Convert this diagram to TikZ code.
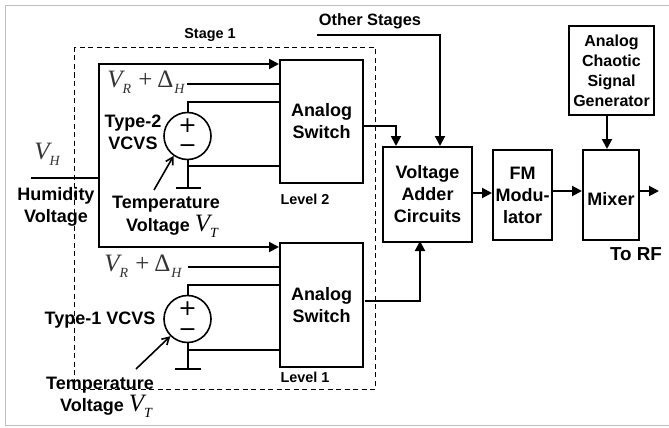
\documentclass[tikz,border=0pt]{standalone}
\usepackage{fontspec}
\setmainfont{Liberation Sans}
\newfontfamily\varfont{Liberation Serif}
\newfontfamily\polefont{DejaVu Sans}
\usetikzlibrary{arrows.meta}
\newcommand{\subvar}[2]{{\varfont\mdseries\fontsize{25}{25}\selectfont\itshape #1\raisebox{-6pt}{\fontsize{14}{14}\selectfont #2}}}
\newcommand{\refsum}{\subvar{V}{R}\kern7pt{\varfont\fontsize{25}{25}\selectfont +\kern5ptΔ}\kern1pt\raisebox{-6pt}{\varfont\fontsize{14}{14}\selectfont\itshape H}}
\tikzset{
  blockbox/.style={draw,line width=2pt,anchor=north west,inner sep=0pt},
  srcnode/.style={draw,circle,line width=1.6pt,minimum size=47pt,inner sep=0pt},
  wire/.style={line width=2pt},
  sig/.style={wire,-{Triangle[length=10pt,width=10pt]}},
  ctrl/.style={line width=1.6pt,-{Straight Barb[length=7pt,width=8pt]}},
  lab/.style={font=\bfseries\fontsize{18}{22}\selectfont,align=center,inner sep=0pt},
  smalllab/.style={font=\bfseries\fontsize{14.4}{17}\selectfont,inner sep=0pt},
  mathlab/.style={text=black!80,inner sep=0pt},
  polelab/.style={font=\polefont\fontsize{22}{22}\selectfont,inner sep=0pt},
}
\begin{document}
\begin{tikzpicture}[x=1pt,y=-1pt]
  \useasboundingbox (0,0) rectangle (669,428);
  \draw[black!25,line width=1pt] (669,5.5) -- (5.5,5.5) -- (5.5,425.5) -- (669,425.5);
  \draw[line width=0.9pt,dash pattern=on 5pt off 3.5pt] (74.5,47) rectangle (375,389);
  % blocks
  \node[blockbox,minimum width=83pt,minimum height=123pt,lab] (swA) at (279,59) {Analog\\Switch};
  \node[blockbox,minimum width=83pt,minimum height=124pt,lab] (swB) at (279,242) {Analog\\Switch};
  \node[blockbox,minimum width=89pt,minimum height=95pt,lab] (adder) at (382,146) {Voltage\\Adder\\Circuits};
  \node[blockbox,minimum width=59pt,minimum height=90pt,lab] (fm) at (492,149) {FM\\Modu-\\lator};
  \node[blockbox,minimum width=56pt,minimum height=90pt,lab] (mixer) at (582,149) {\raisebox{-10.5pt}[0pt][0pt]{Mixer}};
  \node[blockbox,minimum width=85pt,minimum height=89pt,lab,font=\bfseries\fontsize{16}{20}\selectfont] (chaos) at (568,25) {Analog\\Chaotic\\Signal\\Generator};
  \node[srcnode] (srcA) at (187.5,136) {};
  \node[srcnode] (srcB) at (187.5,319) {};
  \node[polelab] (plusA) at (187.5,126) {+};
  \node[polelab] (minusA) at (187.5,149) {−};
  \node[polelab] (plusB) at (187.5,309) {+};
  \node[polelab] (minusB) at (187.5,333) {−};
  % labels
  \node[smalllab] (stage) at (210,35) {Stage 1};
  \node[lab,font=\bfseries\fontsize{16.4}{20}\selectfont] (other) at (370,21) {Other Stages};
  \node[smalllab] (levelA) at (305,199) {Level 2};
  \node[smalllab] (levelB) at (305,377) {Level 1};
  \node[lab,font=\bfseries\fontsize{18.8}{22}\selectfont] (torf) at (636,254) {To RF};
  \node[mathlab] (vh) at (47,154) {\subvar{V}{H}};
  \node[lab] (humid) at (56,207) {Humidity\\Voltage};
  \node[mathlab] (vrA) at (146,82) {\refsum};
  \node[mathlab] (vrB) at (143,266) {\refsum};
  \node[lab] (typeA) at (133,132) {Type-2\\VCVS};
  \node[lab] (typeB) at (100,320) {Type-1 VCVS};
  \node[lab] (tempA) at (166,217) {Temperature\\[1pt]\hspace*{12pt}Voltage \subvar{V}{T}};
  \node[lab] (tempB) at (100,397) {Temperature\\\hspace*{12pt}Voltage \subvar{V}{T}};
  % free ends
  \coordinate (vhin) at (31,178);
  \coordinate (vhjoin) at (99,178);
  \coordinate (gndA) at (187.5,188);
  \coordinate (gndB) at (187.5,369);
  % inputs of the upper switch
  \draw[wire] (vhin) -- (vhjoin);
  \draw[sig] (vhjoin) -- (99,64) -- (279,64);
  \draw[sig] (vhjoin) -- (99,247) -- (279,247);
  \draw[wire] (187,83.5) -- (swA.west |- 0,83.5);
  \draw[wire] (srcA.north) -- (187.5,102) -- (swA.west |- 0,102);
  \draw[wire] (srcA.south) -- (gndA);
  \draw[wire] (187.5,166) -- (swA.west |- 0,166);
  \draw[wire] (176,188) -- (201,188);
  \draw[ctrl] (154,190) -- (srcA.235);
  % inputs of the lower switch
  \draw[wire] (188,267) -- (swB.west |- 0,267);
  \draw[wire] (srcB.north) -- (187.5,285) -- (swB.west |- 0,285);
  \draw[wire] (srcB.south) -- (gndB);
  \draw[wire] (187.5,350) -- (swB.west |- 0,350);
  \draw[wire] (175,369) -- (201,369);
  \draw[ctrl] (136,369) -- (srcB.225);
  % outputs
  \draw[sig] (swA.east |- 0,126) -- (396,126) -- (396,146);
  \draw[sig] (365,301) -- (420,301) -- (420,241);
  \draw[sig] (317,35) -- (440,35) -- (440,146);
  \draw[sig] (adder.east |- 0,193) -- (fm.west |- 0,193);
  \draw[sig] (fm.east |- 0,191) -- (mixer.west |- 0,191);
  \draw[sig] (mixer.east |- 0,191) -- (659,191);
  \draw[sig] (607,116) -- (607,149);
\end{tikzpicture}
\end{document}
